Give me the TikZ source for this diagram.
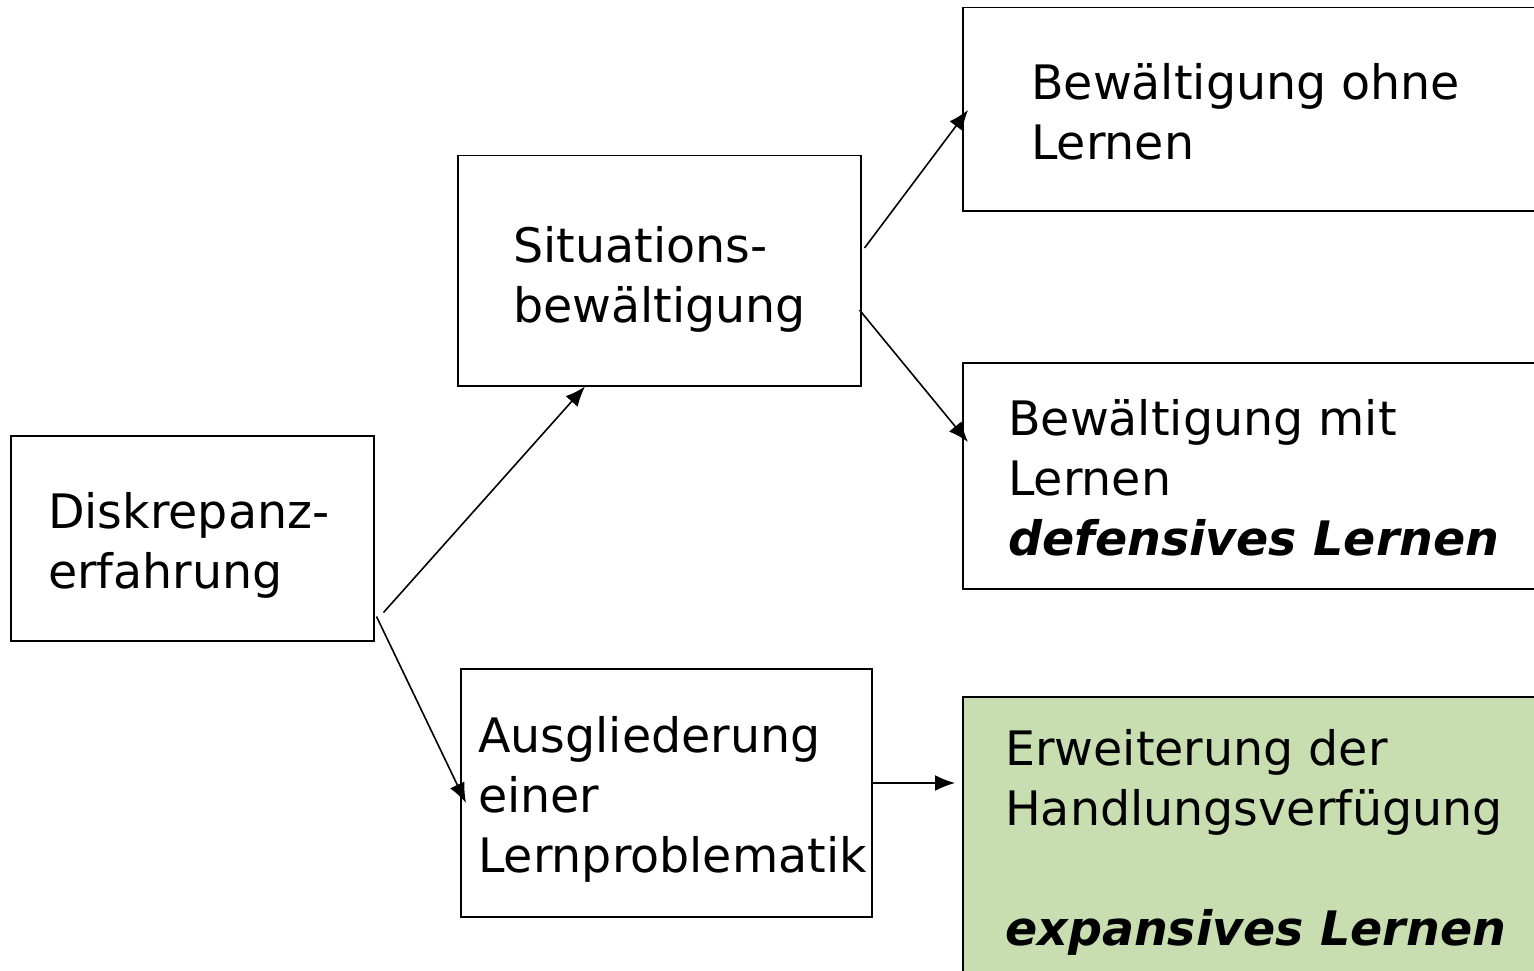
\documentclass[tikz,border=0pt]{standalone}
\usepackage{fontspec}
\setmainfont{DejaVu Sans}
\usetikzlibrary{arrows.meta}
\definecolor{boxgreen}{RGB}{200,221,176}
\begin{document}
\begin{tikzpicture}[x=1pt,y=-1pt,
  box/.style={draw=black, line width=1.5pt, anchor=north west, inner sep=0pt, fill=white},
  txt/.style={anchor=base west, inner sep=0pt, align=left, font=\fontsize{47.5}{60}\selectfont},
  arr/.style={line width=1.6pt, -{Latex[length=20pt,width=16pt]}}]
\useasboundingbox (0,0) rectangle (1534,971);
\clip (0,0) rectangle (1534,971);
% boxes
\node[box, minimum width=363pt, minimum height=205pt] (dis) at (10,435) {};
\node[box, minimum width=403pt, minimum height=230pt] (sit) at (457,155) {};
\node[box, minimum width=411pt, minimum height=248pt] (aus) at (460,668) {};
\node[box, minimum width=650pt, minimum height=203pt] (ohne) at (962,7) {};
\node[box, minimum width=650pt, minimum height=226pt] (mit) at (962,362) {};
\node[box, fill=boxgreen, minimum width=650pt, minimum height=340pt] (erw) at (962,696) {};
% texts (anchor = baseline of last line)
\node[txt] (tdis) at (48,588) {Diskrepanz-\\erfahrung};
\node[txt] (tsit) at (513,322) {Situations-\\bewältigung};
\node[txt] (taus) at (478,872) {Ausgliederung\\einer\\Lernproblematik};
\node[txt] (tohne) at (1031,160) {Bewältigung ohne\\Lernen};
\node[txt] (tmit) at (1008,555) {Bewältigung mit\\Lernen\\\textbf{\textit{defensives Lernen}}};
\node[txt] (terw) at (1005,945) {Erweiterung der\\Handlungsverfügung\\[60pt]\textbf{\textit{expansives Lernen}}};
% arrows
\draw[arr] ([shift={(9,-29)}]dis.south east) -- ([shift={(128,0)}]sit.south west);
\draw[arr] ([shift={(2,-25)}]dis.south east) -- ([shift={(6,135)}]aus.north west);
\draw[arr] ([shift={(3,93)}]sit.north east) -- ([shift={(6,103)}]ohne.north west);
\draw[arr] ([shift={(-2,155)}]sit.north east) -- ([shift={(6,80)}]mit.north west);
\draw[arr] ([shift={(-2,115)}]aus.north east) -- ([shift={(-7,87)}]erw.north west);
\end{tikzpicture}
\end{document}
